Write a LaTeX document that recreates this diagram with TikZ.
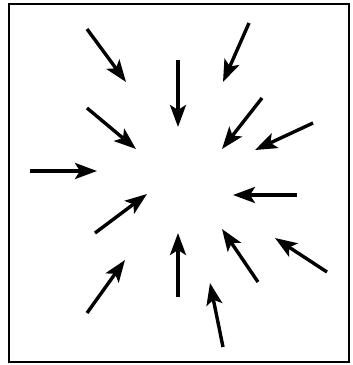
\documentclass[tikz,border=0pt]{standalone}
\usepackage{tikz}
\usetikzlibrary{arrows.meta}

\begin{document}
\begin{tikzpicture}[
  x=1pt, y=-1pt,
  frame/.style={draw=black, line width=2.6pt},
  inflow/.style={-{Stealth[length=22pt, width=16pt, inset=5pt]}, line width=3.4pt, black}
]
\useasboundingbox (0,0) rectangle (353,365);
\draw[frame] (9,4) rectangle (349,362);
% arrows pointing in toward the centre
\foreach \n/\tx/\ty/\hx/\hy in {
  a/87/29/126/82, b/87/108/136/149, c/30/171/97/171, d/178/60/178/127,
  e/249/23/223/82, f/262/98/222/149, g/313/123/255/150, h/297/195/233/195,
  i/327/272/275/238, j/258/282/222/229, k/178/297/178/233, l/223/347/210/283,
  m/87/313/125/260, o/95/233/147/194} {
  \coordinate (t\n) at (\tx,\ty);
  \coordinate (h\n) at (\hx,\hy);
  \draw[inflow] (t\n) -- (h\n);
}
\end{tikzpicture}
\end{document}
